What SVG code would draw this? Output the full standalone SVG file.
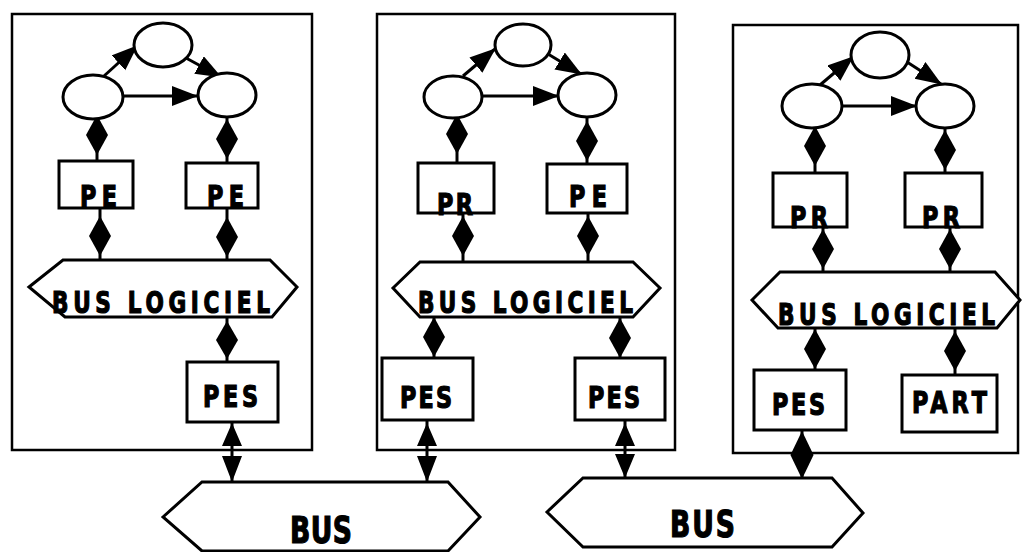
<svg xmlns="http://www.w3.org/2000/svg" width="1022" height="552" viewBox="0 0 1022 552">
<style>
.panel{fill:none;stroke:#000;stroke-width:2.5}
.box{fill:#fff;stroke:#000;stroke-width:3}
.hex{fill:#fff;stroke:#000;stroke-width:3;stroke-linejoin:miter}
.ell{fill:#fff;stroke:#000;stroke-width:3}
.ln{stroke:#000;stroke-width:3;fill:none}
.arr{stroke:#000;stroke-width:3;fill:none;marker-end:url(#ah)}
.dia{fill:#000}
.t{font-family:"DejaVu Sans Condensed","DejaVu Sans",sans-serif;font-weight:bold;fill:#000;stroke:#000;stroke-width:1.2;text-anchor:start}
.tb{font-size:30px}
.tn{font-size:31px}
.tB{font-size:37px}
</style>
<defs>
<marker id="ah" markerUnits="userSpaceOnUse" markerWidth="28" markerHeight="22" refX="25" refY="10" orient="auto">
<path d="M0,0 L26,10 L0,20 Z" fill="#000"/>
</marker>
<path id="d" d="M0,-20 L11,0 L0,20 L-11,0 Z"/>
</defs>

<g id="panel1">
<rect class="panel" x="12" y="14" width="300" height="436"/>
</g>
<g id="panel2">
<rect class="panel" x="377" y="14" width="298" height="436"/>
</g>
<g id="panel3">
<rect class="panel" x="733" y="25" width="285" height="428"/>
</g>

<g id="connectors">
<!-- panel 1 -->
<line class="arr" x1="104" y1="76" x2="137" y2="46"/>
<line class="arr" x1="186" y1="58" x2="221" y2="77"/>
<line class="arr" x1="124" y1="96" x2="197" y2="96"/>
<line class="ln" x1="97" y1="115" x2="97" y2="161"/>
<use href="#d" class="dia" transform="translate(97,135)"/>
<line class="ln" x1="227" y1="117" x2="227" y2="163"/>
<use href="#d" class="dia" transform="translate(227,139)"/>
<line class="ln" x1="100" y1="208" x2="100" y2="261"/>
<use href="#d" class="dia" transform="translate(100,236)"/>
<line class="ln" x1="227" y1="208" x2="227" y2="261"/>
<use href="#d" class="dia" transform="translate(227,237)"/>
<line class="ln" x1="227" y1="317" x2="227" y2="362"/>
<use href="#d" class="dia" transform="translate(227,340) scale(1,0.95)"/>
<line class="ln" x1="232" y1="422" x2="232" y2="482"/>
<path class="dia" d="M232,423 L242,446 L222,446 Z M222,456 L242,456 L232,482 Z"/>
<!-- panel 2 -->
<line class="arr" x1="463" y1="76" x2="495" y2="49"/>
<line class="arr" x1="548" y1="54" x2="581" y2="74"/>
<line class="arr" x1="483" y1="96" x2="558" y2="96"/>
<line class="ln" x1="457" y1="117" x2="457" y2="163"/>
<use href="#d" class="dia" transform="translate(457,134)"/>
<line class="ln" x1="587" y1="117" x2="587" y2="164"/>
<use href="#d" class="dia" transform="translate(587,141)"/>
<line class="ln" x1="463" y1="213" x2="463" y2="262"/>
<use href="#d" class="dia" transform="translate(463,236)"/>
<line class="ln" x1="588" y1="213" x2="588" y2="262"/>
<use href="#d" class="dia" transform="translate(588,236)"/>
<line class="ln" x1="434" y1="317" x2="434" y2="358"/>
<use href="#d" class="dia" transform="translate(434,337)"/>
<line class="ln" x1="620" y1="317" x2="620" y2="358"/>
<use href="#d" class="dia" transform="translate(620,338)"/>
<line class="ln" x1="427" y1="420" x2="427" y2="482"/>
<path class="dia" d="M427,423 L437,446 L417,446 Z M417,456 L437,456 L427,482 Z"/>
<line class="ln" x1="625" y1="420" x2="625" y2="478"/>
<path class="dia" d="M625,423 L635,446 L615,446 Z M615,454 L635,454 L625,478 Z"/>
<!-- panel 3 -->
<line class="arr" x1="820" y1="85" x2="853" y2="57"/>
<line class="arr" x1="907" y1="62" x2="941" y2="84"/>
<line class="arr" x1="842" y1="106" x2="916" y2="106"/>
<line class="ln" x1="815" y1="127" x2="815" y2="173"/>
<use href="#d" class="dia" transform="translate(815,146)"/>
<line class="ln" x1="945" y1="128" x2="945" y2="173"/>
<use href="#d" class="dia" transform="translate(945,150)"/>
<line class="ln" x1="823" y1="227" x2="823" y2="272"/>
<use href="#d" class="dia" transform="translate(823,249)"/>
<line class="ln" x1="950" y1="227" x2="950" y2="272"/>
<use href="#d" class="dia" transform="translate(950,249)"/>
<line class="ln" x1="815" y1="328" x2="815" y2="370"/>
<use href="#d" class="dia" transform="translate(815,349)"/>
<line class="ln" x1="955" y1="328" x2="955" y2="375"/>
<use href="#d" class="dia" transform="translate(955,351)"/>
<line class="ln" x1="802" y1="430" x2="802" y2="480"/>
<use href="#d" class="dia" transform="translate(802,455) scale(1.05,1.2)"/>
</g>

<g id="p1-e-top"><ellipse class="ell" cx="163" cy="45" rx="29" ry="22"/></g>
<g id="p1-e-left"><ellipse class="ell" cx="93" cy="97" rx="30" ry="22"/></g>
<g id="p1-e-right"><ellipse class="ell" cx="227" cy="95" rx="29" ry="22"/></g>
<g id="p1-pe1"><rect class="box" x="59" y="161" width="74" height="47"/><text class="t tn" transform="translate(80,207) scale(0.8,1)" textLength="46.3" lengthAdjust="spacing">PE</text></g>
<g id="p1-pe2"><rect class="box" x="186" y="163" width="72" height="45"/><text class="t tn" transform="translate(207,207) scale(0.8,1)" textLength="46.3" lengthAdjust="spacing">PE</text></g>
<g id="p1-buslog"><polygon class="hex" points="29,287 63,260 270,260 297,287 272,317 65,317"/><text class="t tb" transform="translate(52,313) scale(0.8,1)" textLength="272.5" lengthAdjust="spacing">BUS LOGICIEL</text></g>
<g id="p1-pes"><rect class="box" x="187" y="362" width="91" height="60"/><text class="t tn" transform="translate(203,407) scale(0.8,1)" textLength="68.8" lengthAdjust="spacing">PES</text></g>

<g id="p2-e-top"><ellipse class="ell" cx="523" cy="45" rx="28" ry="21"/></g>
<g id="p2-e-left"><ellipse class="ell" cx="453" cy="97" rx="29" ry="21"/></g>
<g id="p2-e-right"><ellipse class="ell" cx="587" cy="95" rx="29" ry="22"/></g>
<g id="p2-pr"><rect class="box" x="418" y="163" width="76" height="50"/><text class="t tn" transform="translate(437,215) scale(0.8,1)" textLength="45" lengthAdjust="spacing">PR</text></g>
<g id="p2-pe"><rect class="box" x="547" y="164" width="80" height="49"/><text class="t tn" transform="translate(569,207) scale(0.8,1)" textLength="47.5" lengthAdjust="spacing">PE</text></g>
<g id="p2-buslog"><polygon class="hex" points="393,288 420,262 633,262 660,288 633,317 420,317"/><text class="t tb" transform="translate(418,313) scale(0.8,1)" textLength="268.8" lengthAdjust="spacing">BUS LOGICIEL</text></g>
<g id="p2-pes1"><rect class="box" x="382" y="358" width="91" height="62"/><text class="t tn" transform="translate(400,408) scale(0.8,1)" textLength="65" lengthAdjust="spacing">PES</text></g>
<g id="p2-pes2"><rect class="box" x="575" y="358" width="90" height="62"/><text class="t tn" transform="translate(588,408) scale(0.8,1)" textLength="65" lengthAdjust="spacing">PES</text></g>

<g id="p3-e-top"><ellipse class="ell" cx="880" cy="55" rx="29" ry="23"/></g>
<g id="p3-e-left"><ellipse class="ell" cx="812" cy="106" rx="30" ry="22"/></g>
<g id="p3-e-right"><ellipse class="ell" cx="945" cy="106" rx="29" ry="22"/></g>
<g id="p3-pr1"><rect class="box" x="773" y="173" width="74" height="54"/><text class="t tn" transform="translate(790,228) scale(0.8,1)" textLength="47.5" lengthAdjust="spacing">PR</text></g>
<g id="p3-pr2"><rect class="box" x="905" y="173" width="77" height="54"/><text class="t tn" transform="translate(922,228) scale(0.8,1)" textLength="47.5" lengthAdjust="spacing">PR</text></g>
<g id="p3-buslog"><polygon class="hex" points="752,300 780,272 995,272 1020,300 997,328 778,328"/><text class="t tb" transform="translate(778,325) scale(0.8,1)" textLength="271.3" lengthAdjust="spacing">BUS LOGICIEL</text></g>
<g id="p3-pes"><rect class="box" x="754" y="370" width="92" height="60"/><text class="t tn" transform="translate(772,415) scale(0.8,1)" textLength="66.3" lengthAdjust="spacing">PES</text></g>
<g id="p3-part"><rect class="box" x="902" y="375" width="95" height="57"/><text class="t tn" transform="translate(912,413) scale(0.8,1)" textLength="93.8" lengthAdjust="spacing">PART</text></g>

<g id="bus1"><polygon class="hex" points="163,517 202,482 448,482 480,517 448,551 202,551"/><text class="t tB" transform="translate(290,543) scale(0.8,1)" textLength="77.5" lengthAdjust="spacing">BUS</text></g>
<g id="bus2"><polygon class="hex" points="547,512 583,478 832,478 863,513 832,547 583,547"/><text class="t tB" transform="translate(670,537) scale(0.8,1)" textLength="81.3" lengthAdjust="spacing">BUS</text></g>
</svg>
